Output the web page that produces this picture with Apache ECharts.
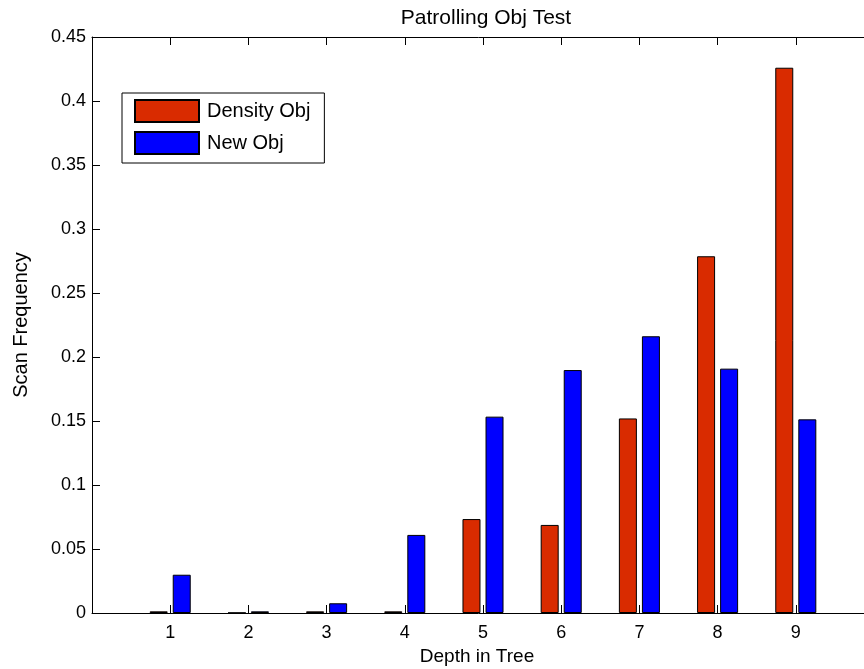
<!DOCTYPE html>
<html>
<head>
<meta charset="utf-8">
<script src="https://cdn.jsdelivr.net/npm/echarts@6/dist/echarts.min.js"></script>
<style>
html,body{margin:0;padding:0;background:#fff;}
#chart{width:864px;height:669px;}
</style>
</head>
<body>
<div id="chart"></div>
<script>
var depths = [1, 2, 3, 4, 5, 6, 7, 8, 9];
var densityObj = [0.0013, 0.0002, 0.0013, 0.0013, 0.0734, 0.0688, 0.152, 0.2787, 0.426];
var newObj = [0.0299, 0.0013, 0.0076, 0.061, 0.1534, 0.1898, 0.2162, 0.1909, 0.1513];
var yTicks = [0, 0.05, 0.1, 0.15, 0.2, 0.25, 0.3, 0.35, 0.4, 0.45];

var FONT = '"Liberation Sans", Arial, sans-serif';
function pairs(vals) { return depths.map(function (d, i) { return [d, vals[i]]; }); }

var chart = echarts.init(document.getElementById('chart'));
chart.setOption({
  animation: false,
  backgroundColor: '#ffffff',
  textStyle: { fontFamily: FONT, color: '#000' },
  title: {
    text: 'Patrolling Obj Test',
    left: 481, top: 3, textAlign: 'center',
    textStyle: { fontFamily: FONT, fontSize: 21, fontWeight: 'normal', color: '#000' }
  },
  legend: {
    orient: 'vertical',
    left: 122, top: 93,
    padding: [6, 14, 8, 12],
    itemGap: 8,
    itemWidth: 64, itemHeight: 22,
    icon: 'rect',
    borderColor: '#000', borderWidth: 1,
    backgroundColor: '#fff',
    textStyle: { fontFamily: FONT, fontSize: 20, lineHeight: 22, color: '#000', padding: [0, 0, 0, 3] },
    data: ['Density Obj', 'New Obj']
  },
  grid: { left: 92, top: 37, width: 782, height: 576, containLabel: false, outerBoundsMode: 'none' },
  xAxis: [{
    type: 'value', min: 0, max: 10, interval: 1,
    name: 'Depth in Tree', nameLocation: 'middle', nameGap: 33,
    nameTextStyle: { fontFamily: FONT, fontSize: 19, color: '#000', padding: [0, 12, 0, 0] },
    axisLine: { show: true, onZero: false, lineStyle: { color: '#000', width: 1 } },
    axisTick: { show: true, inside: true, length: 8, lineStyle: { color: '#000' } },
    axisLabel: {
      fontFamily: FONT, fontSize: 18, color: '#000', margin: 11,
      formatter: function (v) { return (v >= 1 && v <= 9) ? String(v) : ''; }
    },
    splitLine: { show: false }
  }, {
    type: 'value', min: 0, max: 10, interval: 1, position: 'top',
    axisLine: { show: true, onZero: false, lineStyle: { color: '#000', width: 1 } },
    axisTick: { show: true, inside: true, length: 8, lineStyle: { color: '#000' } },
    axisLabel: { show: false },
    splitLine: { show: false }
  }],
  yAxis: {
    type: 'value', min: 0, max: 0.45, interval: 0.05,
    name: 'Scan Frequency', nameLocation: 'middle', nameGap: 61, nameRotate: 90,
    nameTextStyle: { fontFamily: FONT, fontSize: 20, color: '#000' },
    axisLine: { show: true, lineStyle: { color: '#000', width: 1 } },
    axisTick: { show: true, inside: true, length: 8, lineStyle: { color: '#000' } },
    axisLabel: {
      fontFamily: FONT, fontSize: 18, color: '#000', margin: 6,
      formatter: function (v) {
        for (var i = 0; i < yTicks.length; i++) {
          if (Math.abs(yTicks[i] - v) < 1e-9) return String(yTicks[i]);
        }
        return '';
      }
    },
    splitLine: { show: false }
  },
  series: [{
    name: 'Density Obj', type: 'bar', xAxisIndex: 0,
    barWidth: 18, barGap: '28%',
    itemStyle: { color: '#D92B00', borderColor: '#000', borderWidth: 1 },
    data: pairs(densityObj)
  }, {
    name: 'New Obj', type: 'bar', xAxisIndex: 0,
    barWidth: 18, barGap: '28%',
    itemStyle: { color: '#0000FF', borderColor: '#000', borderWidth: 1 },
    data: pairs(newObj)
  }]
});
</script>
</body>
</html>
